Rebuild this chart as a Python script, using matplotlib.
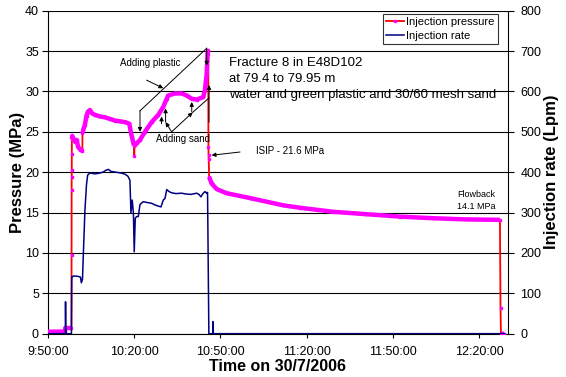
import numpy as np
import matplotlib
matplotlib.use("Agg")
import matplotlib.pyplot as plt
from matplotlib.lines import Line2D

plt.rcParams["font.family"] = ["Liberation Sans", "DejaVu Sans"]

# minutes after 9:50:00 on 30/7/2006
press_t = [0, 5.9, 6.0, 8.15, 8.2, 8.22, 8.24, 8.26, 8.28, 8.3, 8.43, 9.37, 9.97,
           10.5, 11.3, 11.7, 11.95, 12.0, 12.3, 12.85, 13.4, 13.9, 14.6, 15.3, 16.3,
           18.1, 19.8, 21.5, 23.3, 25.0, 26.8, 28.3, 28.9, 29.3, 29.9, 30.0, 30.1,
           30.9, 32.0, 33.7, 36.05, 38.35, 40.1, 41.3, 41.8, 44.2, 46.5, 48.2, 50.0,
           51.7, 54.0, 54.6, 55.2, 55.5, 55.75, 55.8, 55.85, 55.9, 56.05, 56.9, 58.7,
           62.1, 70.2, 81.8, 87.6, 99.1, 110.6, 122.4, 133.9, 145.6, 157.2, 157.4,
           157.55, 158.6]
press_mpa = [0.25, 0.25, 0.7, 0.7, 9.7, 17.8, 19.4, 20.3, 22.3, 24.1, 24.5, 23.8, 24.0,
             23.1, 22.8, 22.7, 22.6, 24.8, 25.3, 25.9, 27.0, 27.5, 27.7, 27.3, 27.1,
             26.9, 26.8, 26.6, 26.4, 26.3, 26.2, 26.0, 24.8, 24.2, 23.3, 22.0, 23.4,
             23.6, 24.0, 25.0, 26.2, 27.1, 28.1, 29.1, 29.5, 29.75, 29.75, 29.5, 29.1,
             29.0, 29.3, 30.2, 32.2, 34.7, 35.1, 23.1, 22.1, 21.6, 19.4, 18.6, 17.9,
             17.4, 16.8, 15.9, 15.6, 15.1, 14.8, 14.5, 14.3, 14.15, 14.1, 3.2,
             0.0, 0.0]

rate_t = [0, 6.05, 6.1, 6.2, 8.15, 8.25, 8.43, 9.0, 10.4, 11.3, 11.6, 12.0, 12.26,
          12.85, 13.4, 13.8, 14.6, 16.3, 17.5, 19.1, 20.2, 21.0, 21.9, 23.6, 25.4,
          26.8, 27.8, 28.5, 28.85, 29.3, 29.7, 30.0, 30.35, 30.8, 31.4, 32.0, 33.15,
          34.4, 36.05, 37.5, 39.3, 40.1, 40.7, 41.3, 42.1, 43.0, 44.5, 46.5, 48.0,
          49.7, 51.7, 52.5, 53.2, 53.9, 54.6, 55.2, 55.5, 55.95, 57.3, 57.35, 57.45,
          158.8]
rate_lpm = [0, 0, 79, 0, 0, 141, 141, 143, 142, 140, 126, 135, 190,
            306, 370, 393, 398, 396, 397, 400, 405, 407, 402, 400, 398,
            395, 390, 380, 299, 331, 300, 203, 286, 290, 290, 320, 327,
            325, 323, 318, 314, 331, 335, 357, 352, 349, 347, 348, 346,
            345, 348, 345, 339, 347, 352, 348, 350, 0, 0, 30, 0,
            0]

tick_minutes = [0, 30, 60, 90, 120, 150]
tick_labels = ["9:50:00", "10:20:00", "10:50:00", "11:20:00", "11:50:00", "12:20:00"]

fig = plt.figure(figsize=(5.66, 3.77), dpi=100)
ax = fig.add_axes([0.0848, 0.1149, 0.8127, 0.8567])

t = np.array(press_t)
p = np.array(press_mpa)

# thin red trace underneath, thick magenta band where samples are dense
ax.plot(t, p, color="#ff0000", lw=1.3, zorder=3)
steep = np.abs(np.diff(p)) / np.diff(t) > 10
bx, by = [t[0]], [p[0]]
for i, s in enumerate(steep):
    if s:
        bx.append(np.nan)
        by.append(np.nan)
    bx.append(t[i + 1])
    by.append(p[i + 1])
ax.plot(bx, by, color="#ff00ff", lw=3.2, solid_capstyle="butt", zorder=4)
ax.plot(t, p, ls="none", marker="s", ms=2, color="#ff00ff", zorder=5)

ax.set_xlim(0, 160)
ax.set_ylim(0, 40)
ax.set_yticks(np.arange(0, 41, 5))
ax.set_xticks(tick_minutes)
ax.set_xticklabels(tick_labels)
ax.grid(axis="y", color="black", lw=0.8)
ax.set_axisbelow(True)
ax.tick_params(axis="y", length=4, width=0.8, pad=2.5, labelsize=9)
ax.tick_params(axis="x", length=3, width=0.8, pad=6, labelsize=9)
for side in ["left", "bottom"]:
    ax.spines[side].set_linewidth(0.8)
ax.spines["top"].set_visible(False)
ax.spines["right"].set_visible(False)

ax.set_ylabel("Pressure (MPa)", fontsize=12, fontweight="bold")
ax.yaxis.set_label_coords(-0.05, 0.5)
ax.set_xlabel("Time on 30/7/2006", fontsize=11.5, fontweight="bold")
ax.xaxis.set_label_coords(0.5, -0.079)

ax2 = ax.twinx()
ax2.plot(rate_t, rate_lpm, color="#000080", lw=1.1, zorder=3)
ax2.set_ylim(0, 800)
ax2.set_yticks(np.arange(0, 801, 100))
ax2.tick_params(axis="y", length=4, width=0.8, pad=5, labelsize=9)
ax2.spines["right"].set_linewidth(0.8)
ax2.spines["top"].set_visible(False)
ax2.spines["left"].set_visible(False)
ax2.spines["bottom"].set_visible(False)
ax2.set_ylabel("Injection rate (Lpm)", fontsize=12, fontweight="bold", rotation=90)
ax2.yaxis.set_label_coords(1.078, 0.5)

# notes and arrows, drawn in pressure/time coordinates
arrow = dict(arrowstyle="-|>", color="black", lw=0.7, mutation_scale=6,
             shrinkA=0, shrinkB=0)
ax.text(25.0, 33.5, "Adding plastic", fontsize=7, va="center", zorder=6)
ax.annotate("", xy=(40.1, 30.4), xytext=(34.3, 31.4), arrowprops=arrow, zorder=6)
ax.plot([32.0, 55.2], [27.6, 35.35], color="black", lw=0.7, zorder=6)
ax.annotate("", xy=(32.0, 25.0), xytext=(32.0, 27.6), arrowprops=arrow, zorder=6)
ax.annotate("", xy=(55.2, 33.2), xytext=(55.2, 35.35), arrowprops=arrow, zorder=6)

ax.text(37.6, 24.1, "Adding sand", fontsize=7, va="center", zorder=6)
for x0, y0, y1 in [(39.5, 26.0, 26.9), (40.9, 26.2, 27.9), (50.0, 27.5, 28.7),
                   (56.0, 26.2, 30.8)]:
    ax.annotate("", xy=(x0, y1), xytext=(x0, y0), arrowprops=arrow, zorder=6)
ax.annotate("", xy=(40.9, 26.2), xytext=(43.0, 25.0), arrowprops=arrow, zorder=6)
ax.annotate("", xy=(50.3, 27.4), xytext=(43.0, 25.0), arrowprops=arrow, zorder=6)
ax.plot([50.3, 56.0], [27.4, 29.2], color="black", lw=0.7, zorder=6)

title_lines = ["Fracture 8 in E48D102", "at 79.4 to 79.95 m",
               "water and green plastic and 30/60 mesh sand"]
for i, line in enumerate(title_lines):
    ax.text(63.05, 33.5 - 1.97 * i, line, fontsize=9.5, va="center", zorder=6)

ax.text(72.3, 22.6, "ISIP - 21.6 MPa", fontsize=7, va="center", zorder=6)
ax.annotate("", xy=(56.9, 22.1), xytext=(66.8, 22.5), arrowprops=arrow, zorder=6)
ax.text(148.9, 16.5, "Flowback\n14.1 MPa", fontsize=6.5, ha="center", va="center",
        linespacing=1.5, zorder=6)

handles = [Line2D([], [], color="#ff0000", lw=1.3, marker="s", ms=2,
                  markerfacecolor="#ff00ff", markeredgecolor="#ff00ff"),
           Line2D([], [], color="#000080", lw=1.1)]
leg = ax2.legend(handles, ["Injection pressure", "Injection rate"], loc="upper right",
                 bbox_to_anchor=(0.978, 0.99), fontsize=8, frameon=True, fancybox=False,
                 handlelength=1.6, handletextpad=0.2, borderpad=0.3, labelspacing=0.3,
                 borderaxespad=0)
leg.get_frame().set_edgecolor("black")
leg.get_frame().set_linewidth(0.8)

fig.savefig("out.png", dpi=100)
